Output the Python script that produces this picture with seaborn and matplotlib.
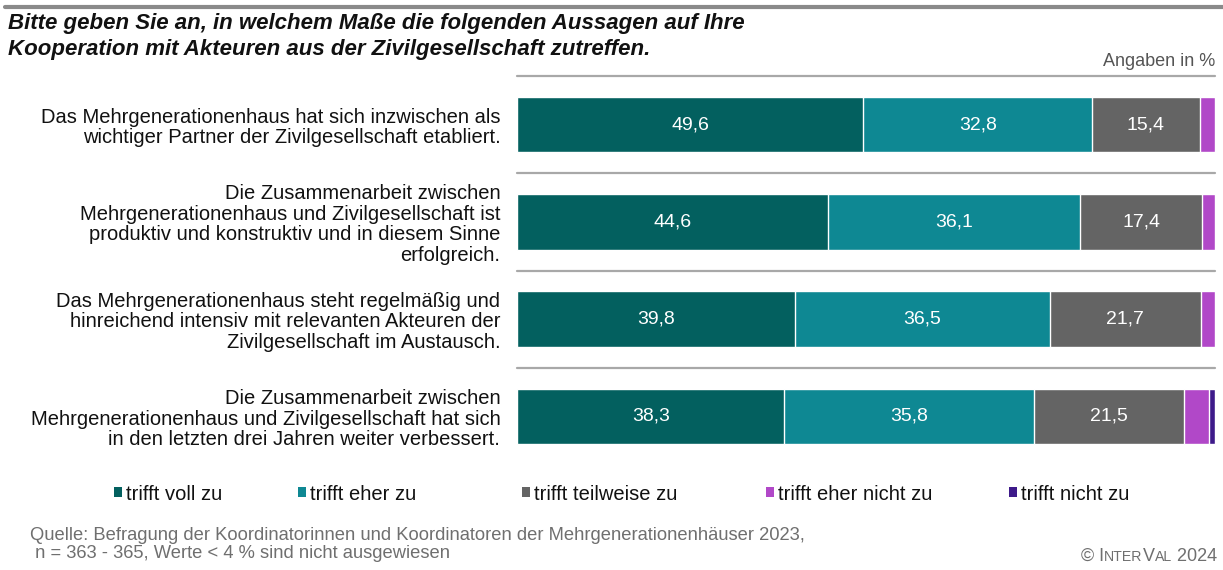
import matplotlib
matplotlib.use("Agg")
import matplotlib.pyplot as plt
from matplotlib.lines import Line2D
from matplotlib.patches import Patch
import numpy as np
import pandas as pd
import seaborn as sns

# Statements (y categories)
statements = [
    "Das Mehrgenerationenhaus hat sich inzwischen als\nwichtiger Partner der Zivilgesellschaft etabliert.",
    "Die Zusammenarbeit zwischen\nMehrgenerationenhaus und Zivilgesellschaft ist\nproduktiv und konstruktiv und in diesem Sinne\nerfolgreich.",
    "Das Mehrgenerationenhaus steht regelmäßig und\nhinreichend intensiv mit relevanten Akteuren der\nZivilgesellschaft im Austausch.",
    "Die Zusammenarbeit zwischen\nMehrgenerationenhaus und Zivilgesellschaft hat sich\nin den letzten drei Jahren weiter verbessert.",
]

# Answer shares in percent
trifft_voll_zu = [49.6, 44.6, 39.8, 38.3]
trifft_eher_zu = [32.8, 36.1, 36.5, 35.8]
trifft_teilweise_zu = [15.4, 17.4, 21.7, 21.5]
trifft_eher_nicht_zu = [2.2, 1.9, 2.0, 3.6]
trifft_nicht_zu = [0.0, 0.0, 0.0, 0.8]

answer_labels = ["trifft voll zu", "trifft eher zu", "trifft teilweise zu",
                 "trifft eher nicht zu", "trifft nicht zu"]
answer_colors = ["#03605F", "#0E8893", "#646464", "#B148C8", "#3E1A8A"]

series = [trifft_voll_zu, trifft_eher_zu, trifft_teilweise_zu,
          trifft_eher_nicht_zu, trifft_nicht_zu]

sns.set_theme(style="white")
plt.rcParams["font.family"] = ["Liberation Sans", "DejaVu Sans"]

W, H = 1223, 570
fig = plt.figure(figsize=(W / 100, H / 100), dpi=100)
ax = fig.add_axes([517 / W, 1 - 465 / H, 698 / W, 389 / H])

values = np.array(series)            # shape: answers x statements
cum = np.cumsum(values, axis=0)
lefts = cum - values

# Stacked bars: draw cumulative totals from the outermost segment inward
for k in range(len(series) - 1, -1, -1):
    df = pd.DataFrame({"statement": statements, "value": cum[k]})
    sns.barplot(data=df, x="value", y="statement", orient="h",
                color=answer_colors[k], saturation=1, width=0.57,
                edgecolor="white", linewidth=1.0, ax=ax)

# Value labels (values below 4 % are not shown)
for k in range(len(series)):
    for i in range(len(statements)):
        v = values[k, i]
        if v >= 4:
            ax.text(lefts[k, i] + v / 2, i, f"{v:.1f}".replace(".", ","),
                    ha="center", va="center", color="white", fontsize=14)

ax.set_xlim(0, 100)
ax.set_ylim(3.5, -0.5)
ax.set_xlabel("")
ax.set_ylabel("")
ax.set_xticks([])
for s in ax.spines.values():
    s.set_visible(False)
ax.tick_params(axis="y", length=0, pad=12, labelsize=14.5, labelcolor="#111111")
for lab in ax.get_yticklabels():
    lab.set_linespacing(1.1)

# Horizontal rules above and between the bars
for yv in [-0.5, 0.5, 1.5, 2.5]:
    ax.axhline(yv, color="#a8a8a8", lw=1.6, clip_on=False)

# Top rule of the page
fig.add_artist(Line2D([5 / W, 1.0], [1 - 7 / H, 1 - 7 / H],
                      color="#8a8a8a", lw=3, transform=fig.transFigure))

# Question text
fig.text(8 / W, 1 - 24 / H,
         "Bitte geben Sie an, in welchem Maße die folgenden Aussagen auf Ihre",
         fontsize=16, fontweight="bold", style="italic", color="#111111",
         va="center", ha="left")
fig.text(8 / W, 1 - 49 / H,
         "Kooperation mit Akteuren aus der Zivilgesellschaft zutreffen.",
         fontsize=16, fontweight="bold", style="italic", color="#111111",
         va="center", ha="left")
fig.text(1215 / W, 1 - 61 / H, "Angaben in %", fontsize=13,
         color="#555555", ha="right", va="center")

# Legend: one entry per answer, spread across the width
legend_x = [114, 298, 522, 766, 1009]
for lbl, col, lx in zip(answer_labels, answer_colors, legend_x):
    fig.legend([Patch(facecolor=col, edgecolor="none")], [lbl],
               loc="center left", bbox_to_anchor=(lx / W, 1 - 494 / H),
               frameon=False, fontsize=14.5, handlelength=0.4,
               handleheight=0.4, handletextpad=0.2, borderpad=0,
               borderaxespad=0, labelcolor="#111111")

# Source note
fig.text(30 / W, 1 - 535 / H,
         "Quelle: Befragung der Koordinatorinnen und Koordinatoren der Mehrgenerationenhäuser 2023,",
         fontsize=13.2, color="#6f6f6f", ha="left", va="center")
fig.text(30 / W, 1 - 554 / H,
         " n = 363 - 365, Werte < 4 % sind nicht ausgewiesen",
         fontsize=13.2, color="#6f6f6f", ha="left", va="center")

# Copyright in small caps, built piece by piece along a shared baseline
base_y = 1 - 561 / H
pieces = [("© I", 13), ("NTER", 10.2), ("V", 13), ("AL", 10.2), (" 2024", 13)]
prev = fig.text(1081 / W, base_y, pieces[0][0], fontsize=pieces[0][1],
                color="#6f6f6f", ha="left", va="baseline")
for txt, fs in pieces[1:]:
    prev = fig.add_artist(
        matplotlib.text.Annotation(txt, xy=(1, base_y),
                                   xycoords=(prev, "figure fraction"),
                                   fontsize=fs, color="#6f6f6f",
                                   ha="left", va="baseline"))

fig.savefig("out.png", dpi=100)
